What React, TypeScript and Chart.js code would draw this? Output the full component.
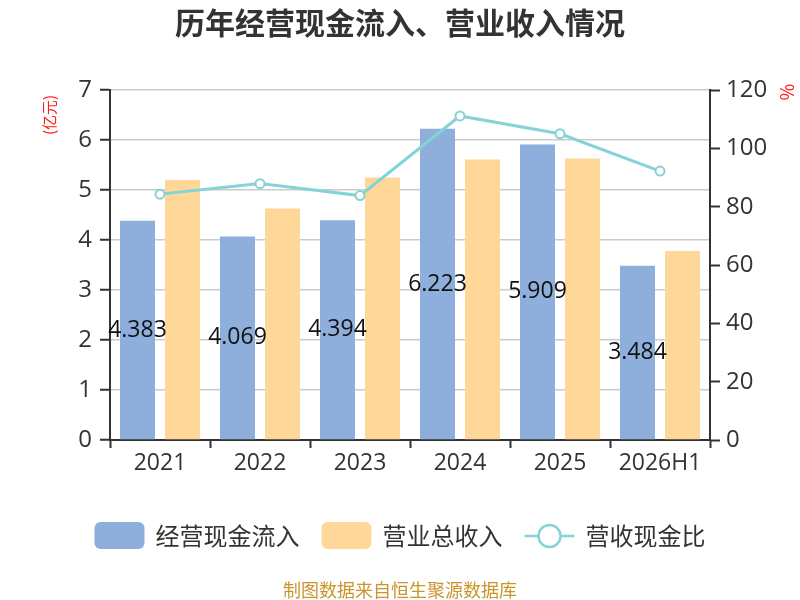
import { useEffect, useRef } from "react"
import { Chart, registerables } from "chart.js"

Chart.register(...registerables)

const categories = ["2021", "2022", "2023", "2024", "2025", "2026H1"]
const cashInflow = [4.383, 4.069, 4.394, 6.223, 5.909, 3.484]
const revenue = [5.2, 4.63, 5.25, 5.61, 5.63, 3.78]
const cashRatio = [84.3, 87.9, 83.8, 111.1, 105.0, 92.2]

const leftMax = 7
const rightMax = 120
const rightStep = 20

const title = "历年经营现金流入、营业收入情况"
const leftUnit = "(亿元)"
const rightUnit = "%"
const footer = "制图数据来自恒生聚源数据库"

const FONT = '"Noto Sans CJK SC", "Noto Sans", sans-serif'
const NUM_FONT = '"Open Sans", "Noto Sans CJK SC", sans-serif'
const BLUE = "#8eaedb"
const ORANGE = "#ffd899"
const TEAL = "#84d3d6"
const AXIS = "#333333"

const decorPlugin = {
  id: "decor",
  afterDatasetsDraw(chart: Chart) {
    const ctx = chart.ctx
    const meta = chart.getDatasetMeta(0)
    ctx.save()
    ctx.font = `23px ${NUM_FONT}`
    ctx.fillStyle = "#111"
    ctx.textAlign = "center"
    ctx.textBaseline = "middle"
    meta.data.forEach((bar: any, i: number) => {
      const { x, y, base } = bar.getProps(["x", "y", "base"], true)
      ctx.fillText(cashInflow[i].toFixed(3), x, (y + base) / 2)
    })
    ctx.restore()
  },
  afterDraw(chart: Chart) {
    const ctx = chart.ctx
    ctx.save()

    // title
    ctx.font = `bold 30px ${FONT}`
    ctx.fillStyle = AXIS
    ctx.textAlign = "center"
    ctx.textBaseline = "middle"
    ctx.fillText(title, 400, 23)

    // axis units
    ctx.font = `15px ${FONT}`
    ctx.fillStyle = "#ff1a1a"
    ctx.save()
    ctx.translate(49, 115)
    ctx.rotate(-Math.PI / 2)
    ctx.fillText(leftUnit, 0, 0)
    ctx.restore()
    ctx.font = `18px ${FONT}`
    ctx.save()
    ctx.translate(787, 92)
    ctx.rotate(Math.PI / 2)
    ctx.fillText(rightUnit, 0, 0)
    ctx.restore()

    // legend
    const items = [
      { kind: "box", color: BLUE, label: "经营现金流入" },
      { kind: "box", color: ORANGE, label: "营业总收入" },
      { kind: "line", color: TEAL, label: "营收现金比" },
    ]
    ctx.font = `24px ${FONT}`
    const symW = 50
    const symGap = 11
    const itemGap = 22
    const widths = items.map((it) => symW + symGap + ctx.measureText(it.label).width)
    const total = widths.reduce((a, b) => a + b, 0) + itemGap * (items.length - 1)
    let x = 400 - total / 2
    const cy = 536
    items.forEach((it, i) => {
      if (it.kind === "box") {
        ctx.fillStyle = it.color
        ctx.beginPath()
        ctx.roundRect(x, cy - 14, symW, 27, 6)
        ctx.fill()
      } else {
        ctx.strokeStyle = it.color
        ctx.lineWidth = 2.5
        ctx.beginPath()
        ctx.moveTo(x, cy)
        ctx.lineTo(x + symW, cy)
        ctx.stroke()
        ctx.fillStyle = "#fff"
        ctx.beginPath()
        ctx.arc(x + symW / 2, cy, 11, 0, Math.PI * 2)
        ctx.fill()
        ctx.stroke()
      }
      ctx.fillStyle = AXIS
      ctx.textAlign = "left"
      ctx.fillText(it.label, x + symW + symGap, cy)
      x += widths[i] + itemGap
    })

    // footer
    ctx.font = `18px ${FONT}`
    ctx.fillStyle = "#c9952d"
    ctx.textAlign = "center"
    ctx.fillText(footer, 400, 590)

    ctx.restore()
  },
}

export default function App() {
  const canvasRef = useRef<HTMLCanvasElement | null>(null)
  const chartRef = useRef<Chart | null>(null)

  useEffect(() => {
    if (!canvasRef.current) return
    if (chartRef.current) chartRef.current.destroy()

    const ctx = canvasRef.current.getContext("2d")
    if (!ctx) return

    chartRef.current = new Chart(ctx, {
      type: "bar",
      data: {
        labels: categories,
        datasets: [
          {
            type: "bar",
            label: "经营现金流入",
            data: cashInflow,
            backgroundColor: BLUE,
            yAxisID: "y",
            order: 2,
            categoryPercentage: 0.9,
            barPercentage: 0.778,
          },
          {
            type: "bar",
            label: "营业总收入",
            data: revenue,
            backgroundColor: ORANGE,
            yAxisID: "y",
            order: 2,
            categoryPercentage: 0.9,
            barPercentage: 0.778,
          },
          {
            type: "line",
            label: "营收现金比",
            data: cashRatio,
            borderColor: TEAL,
            borderWidth: 3,
            pointRadius: 4.5,
            pointBorderWidth: 2,
            pointBackgroundColor: "#fff",
            pointBorderColor: TEAL,
            yAxisID: "y1",
            order: 1,
          },
        ],
      } as any,
      options: {
        responsive: false,
        animation: false,
        devicePixelRatio: 1,
        layout: { padding: { top: 90, left: 0, right: 0, bottom: 0 } },
        plugins: {
          legend: { display: false },
          tooltip: { enabled: false },
        },
        scales: {
          x: {
            afterFit: (scale: any) => {
              scale.height = 160
            },
            grid: {
              drawOnChartArea: false,
              tickLength: 8,
              tickColor: AXIS,
              tickWidth: 2,
            },
            border: { color: AXIS, width: 2 },
            ticks: { color: AXIS, font: { size: 23, family: NUM_FONT }, padding: 2 },
          },
          y: {
            position: "left",
            min: 0,
            max: leftMax,
            afterFit: (scale: any) => {
              scale.width = 110
            },
            grid: { color: "#cccccc", lineWidth: 1.5, tickLength: 10, tickColor: AXIS, tickWidth: 2 },
            border: { color: AXIS, width: 2 },
            ticks: { stepSize: 1, color: AXIS, font: { size: 24, family: NUM_FONT }, padding: 8 },
          },
          y1: {
            position: "right",
            min: 0,
            max: rightMax,
            afterFit: (scale: any) => {
              scale.width = 90
            },
            grid: { drawOnChartArea: false, tickLength: 10, tickColor: AXIS, tickWidth: 2 },
            border: { color: AXIS, width: 2 },
            ticks: { stepSize: rightStep, color: AXIS, font: { size: 24, family: NUM_FONT }, padding: 6 },
          },
        },
      } as any,
      plugins: [decorPlugin],
    })

    return () => {
      if (chartRef.current) {
        chartRef.current.destroy()
        chartRef.current = null
      }
    }
  }, [])

  return (
    <div style={{ position: "fixed", left: 0, top: 0, width: 800, height: 600, background: "#fff" }}>
      <canvas ref={canvasRef} width={800} height={600} />
    </div>
  )
}
